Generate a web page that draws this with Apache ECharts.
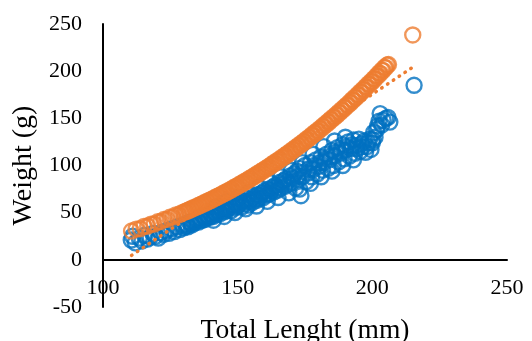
<!DOCTYPE html>
<html>
<head>
<meta charset="utf-8">
<script src="https://cdn.jsdelivr.net/npm/echarts@6/dist/echarts.min.js"></script>
<style>html,body{margin:0;padding:0;background:#fff;}#c{width:532px;height:341px;}</style>
</head>
<body>
<div id="c"></div>
<script>
// Orange series (Total length mm, weight g)
var orangeLen = [110.6,112.3,113.8,115.2,116.6,117.8,119.0,120.3,121.4,122.6,123.7,124.8,125.9,127.0,128.1,129.1,
130,130.5,131,131.5,132,132.5,133,133.5,134,134.5,135,135.5,136,136.5,137,137.5,138,138.5,139,139.5,
140,140.5,141,141.5,142,142.5,143,143.5,144,144.5,145,145.5,146,146.5,147,147.5,148,148.5,149,149.5,
150,150.5,151,151.5,152,152.5,153,153.5,154,154.5,155,155.5,156,156.5,157,157.5,158,158.5,159,159.5,
160,160.5,161,161.5,162,162.5,163,163.5,164,164.5,165,165.5,166,166.5,167,167.5,168,168.5,169,169.5,
170,170.5,171,171.5,172,172.5,173,173.5,174,174.5,175,175.5,176,176.5,177,177.5,178,178.5,179,179.5,
180,180.5,181,181.5,182,182.5,183,183.5,184,184.5,185,185.5,186,186.5,187,187.5,188,188.5,189,189.5,
190,190.5,191,191.5,192,192.5,193,193.5,194,194.5,195,195.5,196,196.5,197,197.5,198,198.5,199,199.5,
200,200.5,201,201.5,202,202.5,203,203.5,204,204.5,205,205.5,206,215];
var orangeWt = [30.5,32.6,33.0,35.4,35.8,37.9,38.0,40.3,40.5,42.7,42.9,45.1,45.3,47.5,47.8,49.8,
50.4,51.3,51.2,52.6,52.5,53.9,53.7,55.2,55.0,56.4,56.2,57.8,57.5,59.1,58.9,60.5,60.2,61.9,61.5,63.2,
62.9,64.6,64.3,66.0,65.7,67.4,67.2,68.9,68.6,70.4,70.1,71.9,71.6,73.4,73.2,75.0,74.7,76.6,76.3,78.1,
77.8,79.8,79.5,81.4,81.1,83.1,82.8,84.8,84.5,86.5,86.2,88.2,87.9,90.0,89.7,91.8,91.4,93.6,93.2,95.4,
95.0,97.2,96.9,99.1,98.7,101.0,100.6,102.9,102.5,104.9,104.4,106.8,106.4,108.8,108.4,110.8,110.4,112.8,112.4,114.9,
114.5,117.0,116.6,119.1,118.7,121.3,120.8,123.4,123.0,125.6,125.2,127.8,127.4,130.1,129.6,132.4,131.9,134.7,134.2,137.0,
136.6,139.4,138.9,141.8,141.3,144.2,143.7,146.6,146.1,149.0,148.6,151.5,151.0,154.0,153.5,156.5,156.1,159.1,158.7,161.7,
161.3,164.3,163.9,167.0,166.5,169.7,169.2,172.4,172.0,175.2,174.7,177.9,177.5,180.7,180.3,183.5,183.1,186.4,185.9,189.2,
188.8,192.1,191.7,195.1,194.7,198.1,197.7,201.1,200.7,204.1,203.7,206.5,207.0,238.4];

// Blue series
var blueLen = [110.5,111,112,113.5,114.5,115.5,116.5,117.5,118.5,119.5,120.5,121.5,122.5,123.5,124.5,125.5,126.5,127.5,128.5,129.5,
130,131,131.5,132,133,133.5,134,135,135.5,136,137,137.5,138,139,139.5,140,141,141.5,142,143,143.5,144,145,145.5,146,147,147.5,148,149,149.5,
150,151,151.5,152,153,153.5,154,155,155.5,156,157,157.5,158,159,159.5,160,161,161.5,162,163,163.5,164,165,165.5,166,167,167.5,168,169,169.5,
170,171,171.5,172,172.5,173,173.5,174,175,175.5,176,177,177.5,178,179,179.5,180,181,181.5,182,183,183.5,184,185,185.5,186,187,187.5,188,189,189.5,
190,191,191.5,192,193,193.5,194,195,195.5,196,197,197.5,198,199,199.5,200,200.5,201,201.6,202,202.5,202.9,203.5,204,205,205.8,206.5,215.5,
130.8,132.6,134.4,136.4,138.4,140.4,142.4,144.4,146.4,148.4,150.4,152.4,154.4,156.4,158.4,160.4,162.4,164.4,166.4,168.4,
170.4,172.4,174.4,176.4,178.4,180.4,182.4,184.4,186.4,188.4,190.4,192.4,194.4,196.4,198.4,200.2,
142,146,150,154,158,162,166,170,174,178,182,186,190,
141,145,149,153,157,161,165,169,173,177,181,185,189,193];
var blueWt = [21,25,18,23,20,26,22,24,28,25,23,29,27,31,28,33,30,35,32,37,
34,38,35,40,37,41,39,43,40,44,42,46,43,47,45,49,46,50,48,52,49,54,51,55,53,57,52,58,55,60,
57,61,56,63,60,65,58,64,61,67,63,69,65,71,66,73,69,75,70,77,72,79,74,82,76,84,78,86,80,89,
82,91,76,94,85,97,68,88,100,83,92,103,88,96,106,91,99,109,95,103,112,97,106,116,100,110,119,104,113,122,107,
116,125,110,118,127,113,121,128,115,123,126,114,120,128,117,124,135,130,138,142,147,155,143,148,150,151,146,185,
36,38.5,41,42.5,45,47,50,52,55,56.5,59,61.5,62,65,68,70.5,73.5,76.5,80,83,
86.5,89,93,96.5,100,103,107,110,114,117,120,122,118,120,124,127,
56,62,66,71,77,82,88,95,103,112,120,126,130,
42,46,50,54,57,62,66,71,75,81,88,94,100,106];

// Linear trendline of the orange series (end points)
var trendLen = [110.6, 215];
var trendWt = [4.7, 204.2];

// Axis ticks
var xTicks = {min: 100, max: 250, step: 50};
var yTicks = {min: -50, max: 250, step: 50};

function pairs(xs, ys) { var out = []; for (var i = 0; i < xs.length; i++) out.push([xs[i], ys[i]]); return out; }

var FONT = '"Liberation Serif", "Times New Roman", serif';
var ORANGE = '#ED7D31', BLUE = '#0070C0';

var GRID_TOP = 24, GRID_BOTTOM = 34, H = 341;
var plotH = H - GRID_TOP - GRID_BOTTOM;
// the x axis crosses the y axis at 0: lift it from the grid bottom to the zero line
var zeroLift = plotH * (0 - yTicks.min) / (yTicks.max - yTicks.min);

var chart = echarts.init(document.getElementById('c'), null, {renderer: 'canvas'});
chart.setOption({
  animation: false,
  backgroundColor: '#fff',
  grid: {left: 103, right: 25, top: GRID_TOP, bottom: GRID_BOTTOM, containLabel: false, outerBoundsMode: 'none'},
  xAxis: {
    type: 'value', min: xTicks.min, max: xTicks.max, interval: xTicks.step,
    offset: -zeroLift,
    axisLine: {show: true, onZero: false, lineStyle: {color: '#000', width: 2}},
    axisTick: {show: false}, splitLine: {show: false},
    axisLabel: {fontFamily: FONT, fontSize: 22, color: '#000', margin: 17},
    name: 'Total Lenght (mm)', nameLocation: 'middle', nameGap: 57,
    nameTextStyle: {fontFamily: FONT, fontSize: 27.5, color: '#000'}
  },
  yAxis: {
    type: 'value', min: yTicks.min, max: yTicks.max, interval: yTicks.step,
    axisLine: {show: true, onZero: false, lineStyle: {color: '#000', width: 2}},
    axisTick: {show: false}, splitLine: {show: false},
    axisLabel: {fontFamily: FONT, fontSize: 22, color: '#000', margin: 21},
    name: 'Weight (g)', nameLocation: 'middle', nameGap: 64, nameRotate: 90,
    nameTextStyle: {fontFamily: FONT, fontSize: 28, color: '#000'}
  },
  series: [
    {type: 'scatter', data: pairs(blueLen, blueWt), symbol: 'circle', symbolSize: 15,
     itemStyle: {color: 'rgba(0,0,0,0)', borderColor: BLUE, borderWidth: 2.4}, z: 2},
    {type: 'scatter', data: pairs(orangeLen, orangeWt), symbol: 'circle', symbolSize: 15,
     itemStyle: {color: 'rgba(0,0,0,0)', borderColor: ORANGE, borderWidth: 2.4}, z: 3},
    {type: 'line', data: pairs(trendLen, trendWt), showSymbol: false, symbol: 'none',
     lineStyle: {color: ORANGE, width: 3.5, type: [0.5, 6.5], cap: 'round'}, z: 4}
  ]
});
</script>
</body>
</html>
